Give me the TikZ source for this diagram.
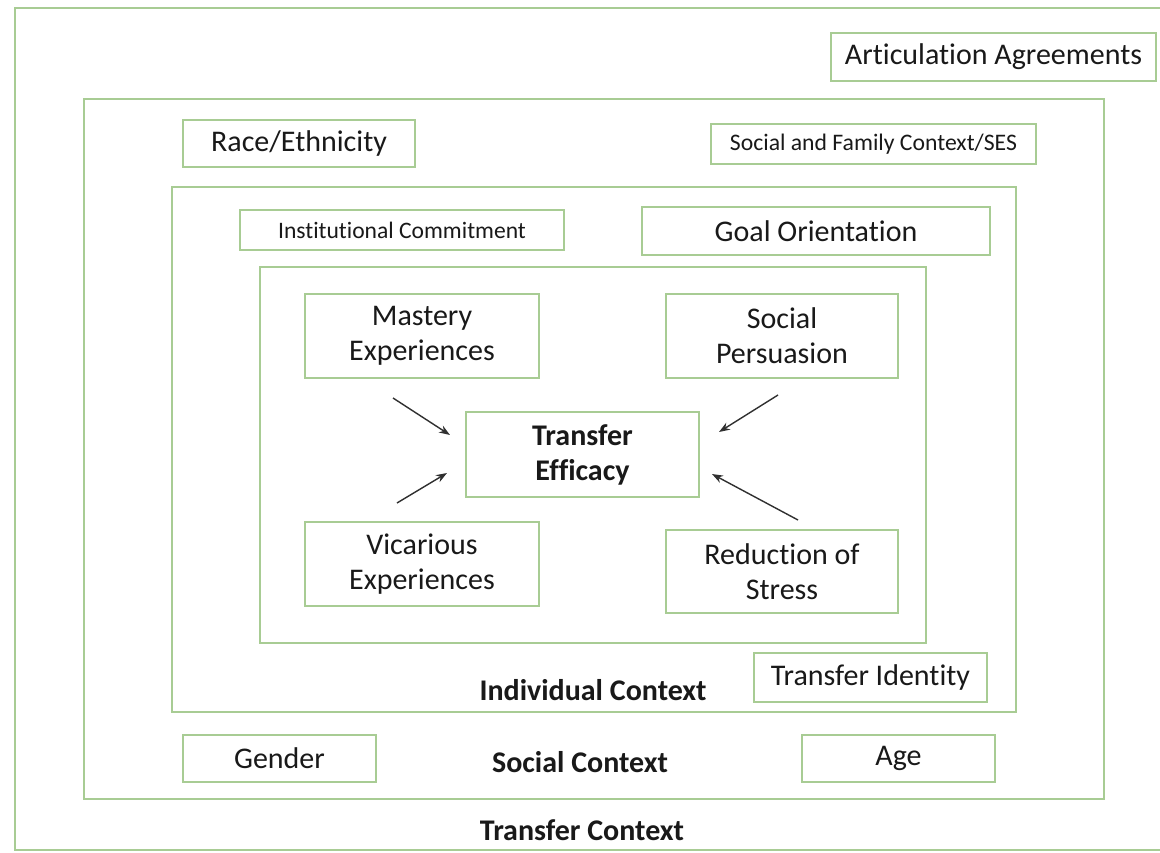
\documentclass[tikz,border=0pt]{standalone}
\usepackage{fontspec}
\setmainfont{Carlito}[Ligatures=NoCommon]
\usetikzlibrary{arrows.meta}
\definecolor{frameg}{RGB}{168,204,148}
\definecolor{txt}{RGB}{25,25,25}
\tikzset{
  box/.style={draw=frameg, line width=1.9pt, rectangle, inner sep=0pt, align=center, text=txt},
  lbl/.style={text=txt, inner sep=0pt, font=\fontsize{30}{34}\selectfont\bfseries},
  arr/.style={draw=txt!90, line width=1.4pt, -{Stealth[length=11pt,width=8pt]}}
}
\begin{document}
\begin{tikzpicture}[x=1pt,y=-1pt]
\useasboundingbox (0,0) rectangle (1160,852);
\fill[white] (0,0) rectangle (1160,852);
\clip (0,0) rectangle (1160,852);
% frames
\node[box, minimum width=1160pt, minimum height=842pt] (transfer) at (595,429) {};
\node[box, minimum width=1020pt, minimum height=700pt] (social) at (594,449) {};
\node[box, minimum width=844pt, minimum height=525pt] (indiv) at (594,449.5) {};
\node[box, minimum width=666pt, minimum height=376pt] (inner) at (593,455) {};
% transfer context items
\node[box, minimum width=325pt, minimum height=48pt, font=\fontsize{30}{34}\selectfont] (artic) at (993.5,57) {Articulation Agreements};
% social context items
\node[box, minimum width=232pt, minimum height=47pt, font=\fontsize{30}{34}\selectfont] (race) at (299,143.5) {Race/Ethnicity};
\node[box, minimum width=325pt, minimum height=40pt, font=\fontsize{23.7}{27}\selectfont] (ses) at (873.5,144) {Social and Family Context/SES};
\node[box, minimum width=193pt, minimum height=47pt, font=\fontsize{30}{34}\selectfont] (gender) at (279.5,758.5) {Gender};
\node[box, minimum width=193pt, minimum height=47pt, font=\fontsize{30}{34}\selectfont] (age) at (898.5,758.5) {Age};
% individual context items
\node[box, minimum width=324pt, minimum height=40pt, font=\fontsize{23.6}{27}\selectfont] (inst) at (402,230) {Institutional Commitment};
\node[box, minimum width=348pt, minimum height=48pt, font=\fontsize{30}{34}\selectfont] (goal) at (816,231) {Goal Orientation};
\node[box, minimum width=233pt, minimum height=49pt, font=\fontsize{30}{34}\selectfont] (identity) at (870.5,677.5) {Transfer Identity};
% efficacy sources
\node[box, minimum width=234pt, minimum height=84pt, font=\fontsize{30}{35}\selectfont] (mastery) at (422,336) {\raisebox{-3pt}{\parbox{220pt}{\centering Mastery\\Experiences}}};
\node[box, minimum width=232pt, minimum height=84pt, font=\fontsize{30}{35}\selectfont] (persuasion) at (782,336) {Social\\Persuasion};
\node[box, minimum width=233pt, minimum height=85pt, font=\fontsize{30}{35}\selectfont\bfseries] (efficacy) at (582.5,454.5) {Transfer\\Efficacy};
\node[box, minimum width=234pt, minimum height=84pt, font=\fontsize{30}{35}\selectfont] (vicarious) at (422,564) {Vicarious\\Experiences};
\node[box, minimum width=232pt, minimum height=83pt, font=\fontsize{30}{35}\selectfont] (stress) at (782,571.5) {Reduction of\\Stress};
% context labels
\node[lbl] (indivlbl) at (593,690) {Individual Context};
\node[lbl] (sociallbl) at (580,762) {Social Context};
\node[lbl] (transferlbl) at (582,830) {Transfer Context};
% arrows
\coordinate (m1) at (393,398); \coordinate (m2) at (450,435);
\coordinate (v1) at (397,503); \coordinate (v2) at (447,473);
\coordinate (p1) at (778,395); \coordinate (p2) at (719,432);
\coordinate (s1) at (798,520); \coordinate (s2) at (712,474);
\draw[arr] (m1) -- (m2);
\draw[arr] (v1) -- (v2);
\draw[arr] (p1) -- (p2);
\draw[arr] (s1) -- (s2);
\end{tikzpicture}
\end{document}
